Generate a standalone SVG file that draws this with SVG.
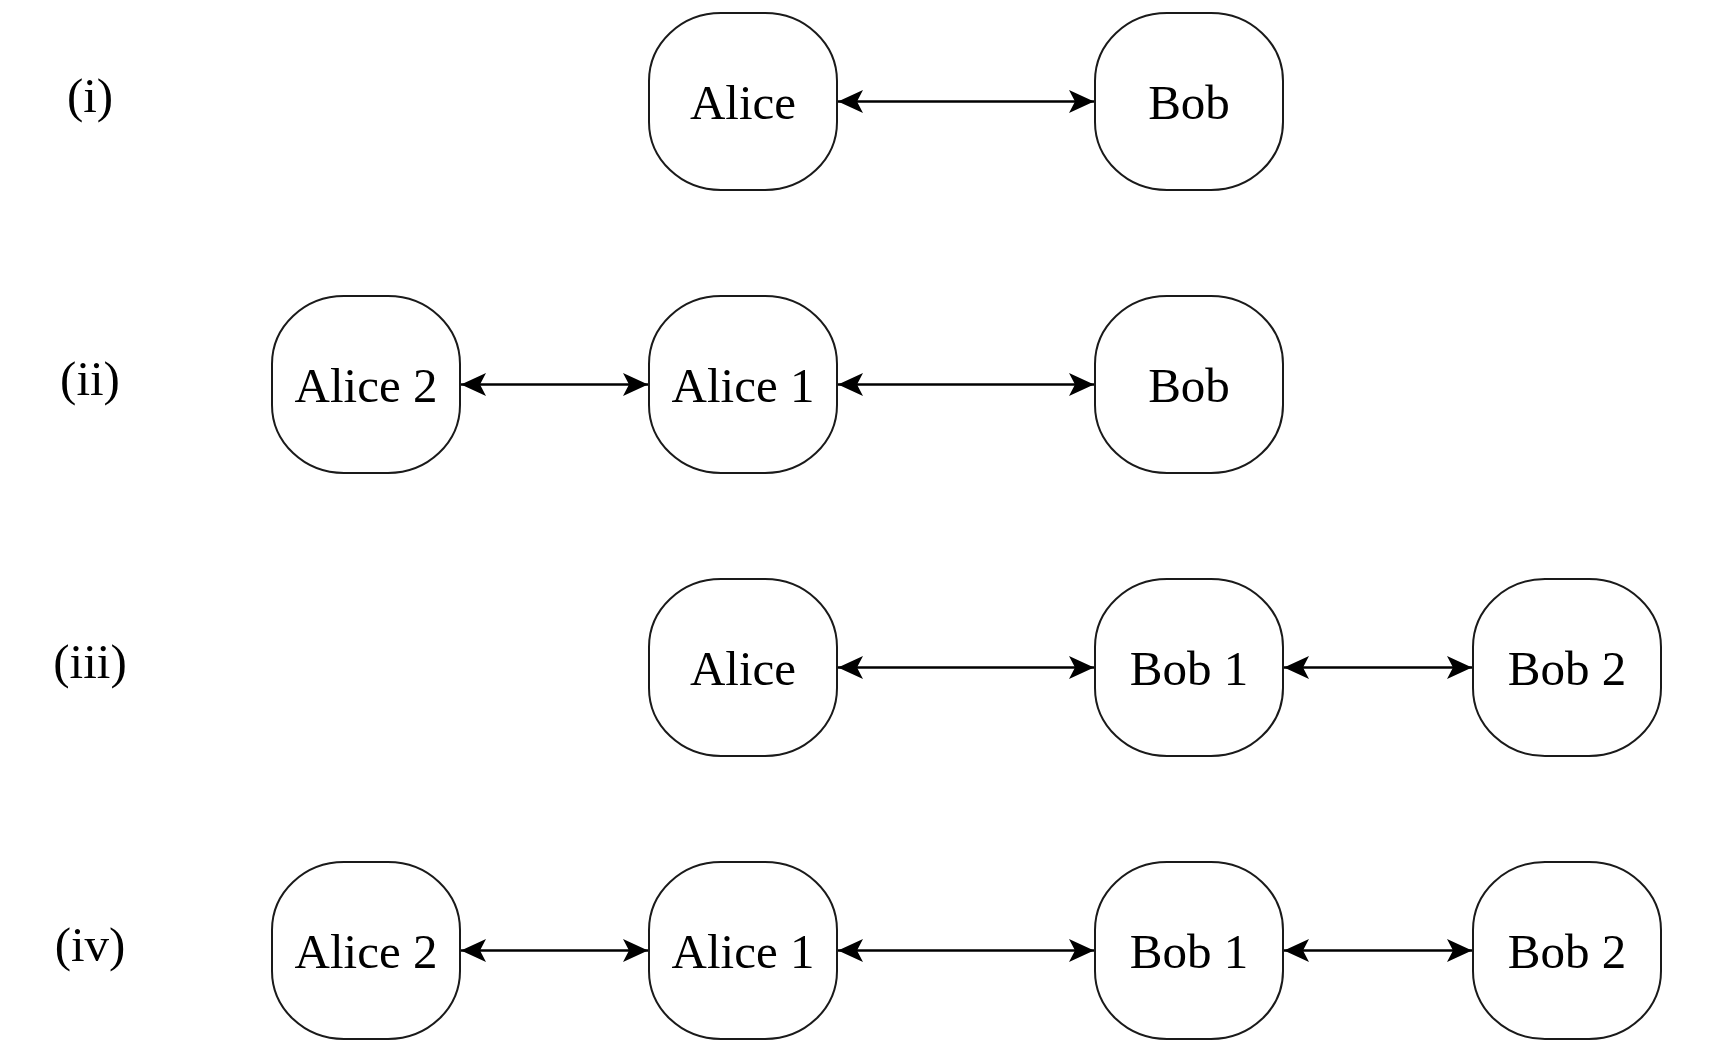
<svg xmlns="http://www.w3.org/2000/svg" width="1712" height="1043" viewBox="0 0 1712 1043">
  <style>
    .node rect { fill: #ffffff; stroke: #1a1a1a; stroke-width: 2; }
    .node text, .label { font-family: "Liberation Serif", "Times New Roman", serif; font-size: 49px; fill: #000000; text-anchor: middle; }
    .link { stroke: #000000; stroke-width: 2.4; fill: none; marker-start: url(#head); marker-end: url(#head); }
  </style>
  <defs>
    <marker id="head" viewBox="0 0 25 23" refX="25" refY="11.5" markerWidth="25" markerHeight="23" markerUnits="userSpaceOnUse" orient="auto-start-reverse">
      <path d="M0,0 L25,11.5 L0,23 L6,11.5 Z" fill="#000000"/>
    </marker>
  </defs>
  <rect width="1712" height="1043" fill="#ffffff"/>

  <!-- scenario labels -->
  <g id="labels">
    <text class="label" x="90" y="112">(i)</text>
    <text class="label" x="90" y="395">(ii)</text>
    <text class="label" x="90" y="678">(iii)</text>
    <text class="label" x="90" y="961">(iv)</text>
  </g>

  <!-- row (i) -->
  <g id="r1-alice" class="node"><rect x="649" y="13" width="188" height="177" rx="72" ry="68"/><text x="743" y="119">Alice</text></g>
  <g id="r1-bob" class="node"><rect x="1095" y="13" width="188" height="177" rx="72" ry="68"/><text x="1189" y="119">Bob</text></g>

  <!-- row (ii) -->
  <g id="r2-alice2" class="node"><rect x="272" y="296" width="188" height="177" rx="72" ry="68"/><text x="366" y="402">Alice 2</text></g>
  <g id="r2-alice1" class="node"><rect x="649" y="296" width="188" height="177" rx="72" ry="68"/><text x="743" y="402">Alice 1</text></g>
  <g id="r2-bob" class="node"><rect x="1095" y="296" width="188" height="177" rx="72" ry="68"/><text x="1189" y="402">Bob</text></g>

  <!-- row (iii) -->
  <g id="r3-alice" class="node"><rect x="649" y="579" width="188" height="177" rx="72" ry="68"/><text x="743" y="685">Alice</text></g>
  <g id="r3-bob1" class="node"><rect x="1095" y="579" width="188" height="177" rx="72" ry="68"/><text x="1189" y="685">Bob 1</text></g>
  <g id="r3-bob2" class="node"><rect x="1473" y="579" width="188" height="177" rx="72" ry="68"/><text x="1567" y="685">Bob 2</text></g>

  <!-- row (iv) -->
  <g id="r4-alice2" class="node"><rect x="272" y="862" width="188" height="177" rx="72" ry="68"/><text x="366" y="968">Alice 2</text></g>
  <g id="r4-alice1" class="node"><rect x="649" y="862" width="188" height="177" rx="72" ry="68"/><text x="743" y="968">Alice 1</text></g>
  <g id="r4-bob1" class="node"><rect x="1095" y="862" width="188" height="177" rx="72" ry="68"/><text x="1189" y="968">Bob 1</text></g>
  <g id="r4-bob2" class="node"><rect x="1473" y="862" width="188" height="177" rx="72" ry="68"/><text x="1567" y="968">Bob 2</text></g>

  <!-- two-way links -->
  <g id="connectors">
    <path class="link" d="M838,101.5 H1094"/>
    <path class="link" d="M461,384.5 H648"/>
    <path class="link" d="M838,384.5 H1094"/>
    <path class="link" d="M838,667.5 H1094"/>
    <path class="link" d="M1284,667.5 H1472"/>
    <path class="link" d="M461,950.5 H648"/>
    <path class="link" d="M838,950.5 H1094"/>
    <path class="link" d="M1284,950.5 H1472"/>
  </g>
</svg>
